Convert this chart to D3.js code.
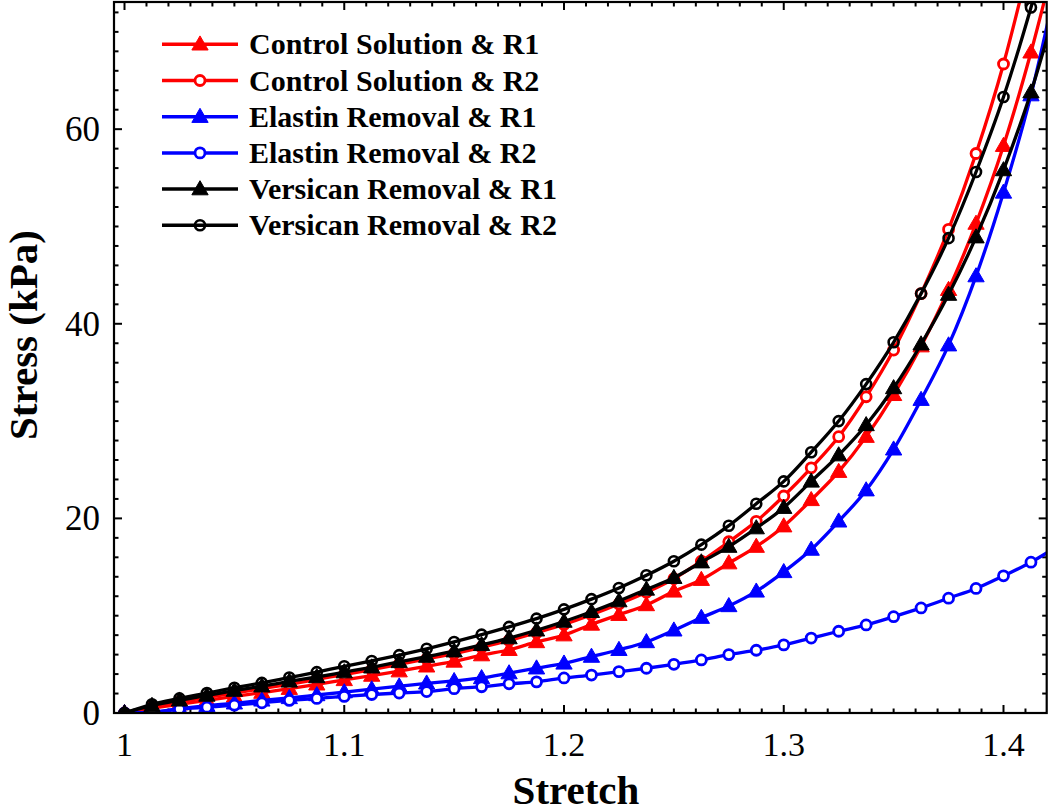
<!DOCTYPE html>
<html>
<head>
<meta charset="utf-8">
<script src="https://cdn.jsdelivr.net/npm/d3@7"></script>
<style>
  html, body { margin: 0; padding: 0; background: #fff; }
  svg { display: block; }
</style>
</head>
<body>
<svg id="chart" width="1050" height="812"></svg>
<script>
// ---------- data ----------
const stretch = [1.0000,1.0125,1.0250,1.0375,1.0500,1.0625,1.0750,1.0875,1.1000,1.1125,1.1250,1.1375,1.1500,1.1625,1.1750,1.1875,1.2000,1.2125,1.2250,1.2375,1.2500,1.2625,1.2750,1.2875,1.3000,1.3125,1.3250,1.3375,1.3500,1.3625,1.3750,1.3875,1.4000,1.4125,1.4250];

const controlR1  = [0,0.5,0.9,1.3,1.7,2.1,2.5,2.95,3.4,3.85,4.3,4.8,5.3,5.95,6.5,7.3,8.0,9.1,10.1,11.1,12.5,13.7,15.4,17.1,19.2,21.9,24.8,28.4,32.7,37.7,43.5,50.3,58.3,67.9,79];
const controlR2  = [0,0.65,1.15,1.6,2.05,2.5,2.95,3.45,3.95,4.45,5.0,5.55,6.1,6.75,7.45,8.25,9.1,10.1,11.2,12.4,13.8,15.6,17.6,19.7,22.3,25.2,28.4,32.5,37.3,43.1,49.7,57.5,66.7,78.0,91];
const elastinR1  = [0,0.1,0.45,0.75,1.0,1.3,1.55,1.85,2.15,2.45,2.75,3.05,3.3,3.6,4.1,4.6,5.1,5.8,6.5,7.3,8.5,9.8,11.0,12.5,14.5,16.8,19.7,22.9,27.1,32.2,37.8,44.9,53.5,63.5,76];
const elastinR2  = [0,0.05,0.4,0.6,0.8,1.05,1.3,1.5,1.7,1.9,2.05,2.2,2.5,2.7,3.0,3.2,3.6,3.9,4.25,4.6,5.0,5.45,6.0,6.45,7.0,7.7,8.4,9.05,9.9,10.8,11.8,12.8,14.1,15.5,17.2];
const versicanR1 = [0,0.75,1.3,1.8,2.3,2.75,3.25,3.7,4.2,4.7,5.25,5.8,6.35,7.0,7.7,8.5,9.4,10.4,11.5,12.7,13.9,15.5,17.1,19.0,21.1,23.8,26.5,29.6,33.4,37.9,43.0,48.9,55.8,63.8,73.5];
const versicanR2 = [0,0.9,1.5,2.05,2.6,3.1,3.65,4.2,4.8,5.35,5.95,6.6,7.3,8.05,8.85,9.7,10.65,11.7,12.85,14.15,15.6,17.3,19.25,21.5,23.8,26.8,30.0,33.8,38.1,43.1,48.8,55.6,63.3,72.5,83];

const seriesNames   = ["Control Solution & R1","Control Solution & R2","Elastin Removal & R1","Elastin Removal & R2","Versican Removal & R1","Versican Removal & R2"];
const seriesValues  = [controlR1, controlR2, elastinR1, elastinR2, versicanR1, versicanR2];
const seriesColors  = ["#ff0000","#ff0000","#0000ff","#0000ff","#000000","#000000"];
const seriesMarkers = ["triangle","circle","triangle","circle","triangle","circleOpen"];

const xMajorTicks = [1, 1.1, 1.2, 1.3, 1.4];
const xTickLabels = ["1", "1.1", "1.2", "1.3", "1.4"];
const yMajorTicks = [0, 20, 40, 60];
const yTickLabels = ["0", "20", "40", "60"];
const yMinorStep = 2;

const xTitle = "Stretch";
const yTitle = "Stress (kPa)";

// ---------- layout ----------
(function () {
const svg = d3.select("#chart");
const pLeft = 114, pRight = 1046.7, pTop = 2, pBottom = 713;

const x = d3.scaleLinear().domain([0.99522, 1.41966]).range([pLeft, pRight]);
const y = d3.scaleLinear().domain([0, 73.07]).range([pBottom, pTop]);

const serif = "'Liberation Serif','Times New Roman',Times,serif";

svg.append("defs").append("clipPath").attr("id", "plotClip")
  .append("rect").attr("x", pLeft).attr("y", pTop)
  .attr("width", pRight - pLeft).attr("height", pBottom - pTop);

// ---------- ticks ----------
const ticksG = svg.append("g").attr("stroke", "#000").attr("stroke-width", 2);
const majLen = 8, minLen = 4.5;
const xMinor = d3.range(100, 142).map(v => v / 100);
xMinor.forEach(v => {
  const isMaj = Math.abs(v * 10 - Math.round(v * 10)) < 1e-6;
  const L = isMaj ? majLen : minLen;
  ticksG.append("line").attr("x1", x(v)).attr("x2", x(v)).attr("y1", pBottom).attr("y2", pBottom - L);
  ticksG.append("line").attr("x1", x(v)).attr("x2", x(v)).attr("y1", pTop).attr("y2", pTop + L);
});
const yMinor = d3.range(0, 73, yMinorStep);
yMinor.forEach(v => {
  const isMaj = v % 20 === 0;
  const L = isMaj ? majLen : minLen;
  ticksG.append("line").attr("x1", pLeft).attr("x2", pLeft + L).attr("y1", y(v)).attr("y2", y(v));
  ticksG.append("line").attr("x1", pRight).attr("x2", pRight - L).attr("y1", y(v)).attr("y2", y(v));
});

// tick labels
svg.append("g").selectAll("text").data(xMajorTicks).join("text")
  .attr("x", d => x(d)).attr("y", 756)
  .attr("text-anchor", "middle")
  .attr("font-family", serif).attr("font-size", 34)
  .text((d, i) => xTickLabels[i]);

svg.append("g").selectAll("text").data(yMajorTicks).join("text")
  .attr("x", 100).attr("y", d => y(d) + 12)
  .attr("text-anchor", "end")
  .attr("font-family", serif).attr("font-size", 35)
  .text((d, i) => yTickLabels[i]);

// axis titles
svg.append("text")
  .attr("x", 576).attr("y", 804)
  .attr("text-anchor", "middle")
  .attr("font-family", serif).attr("font-weight", "bold").attr("font-size", 41)
  .text(xTitle);

svg.append("text")
  .attr("transform", "translate(37,335) rotate(-90)")
  .attr("text-anchor", "middle")
  .attr("font-family", serif).attr("font-weight", "bold").attr("font-size", 41)
  .text(yTitle);

// ---------- series ----------
const line = d3.line().x(d => x(d[0])).y(d => y(d[1])).curve(d3.curveMonotoneX);
const triPath = d3.symbol().type(d3.symbolTriangle).size(115)();

function drawMarker(g, type, color, cx, cy) {
  if (type === "triangle") {
    g.append("path").attr("d", triPath)
      .attr("transform", `translate(${cx},${cy + 1})`)
      .attr("fill", color).attr("stroke", color).attr("stroke-width", 1);
  } else if (type === "circle") {
    g.append("circle").attr("cx", cx).attr("cy", cy).attr("r", 5)
      .attr("fill", "#fff").attr("stroke", color).attr("stroke-width", 2.8);
  } else {
    g.append("circle").attr("cx", cx).attr("cy", cy).attr("r", 5)
      .attr("fill", "none").attr("stroke", color).attr("stroke-width", 2.6);
  }
}

const plotG = svg.append("g").attr("clip-path", "url(#plotClip)");
seriesValues.forEach((vals, s) => {
  const pts = stretch.map((sx, i) => [sx, vals[i]]);
  const g = plotG.append("g");
  g.append("path").datum(pts).attr("d", line)
    .attr("fill", "none").attr("stroke", seriesColors[s]).attr("stroke-width", 3.3);
  pts.forEach(p => drawMarker(g, seriesMarkers[s], seriesColors[s], x(p[0]), y(p[1])));
});

// frame
svg.append("rect").attr("x", pLeft).attr("y", pTop)
  .attr("width", pRight - pLeft).attr("height", pBottom - pTop)
  .attr("fill", "none").attr("stroke", "#000").attr("stroke-width", 2.2);

// ---------- legend ----------
const legendG = svg.append("g");
const legY0 = 44.3, legDy = 36.2;
seriesNames.forEach((name, s) => {
  const ly = legY0 + s * legDy;
  legendG.append("line").attr("x1", 162).attr("x2", 238).attr("y1", ly).attr("y2", ly)
    .attr("stroke", seriesColors[s]).attr("stroke-width", 3.5);
  drawMarker(legendG, seriesMarkers[s], seriesColors[s], 200, ly);
  legendG.append("text").attr("x", 249).attr("y", ly + 10)
    .attr("font-family", serif).attr("font-weight", "bold").attr("font-size", 30)
    .text(name);
});
})();
</script>
</body>
</html>
